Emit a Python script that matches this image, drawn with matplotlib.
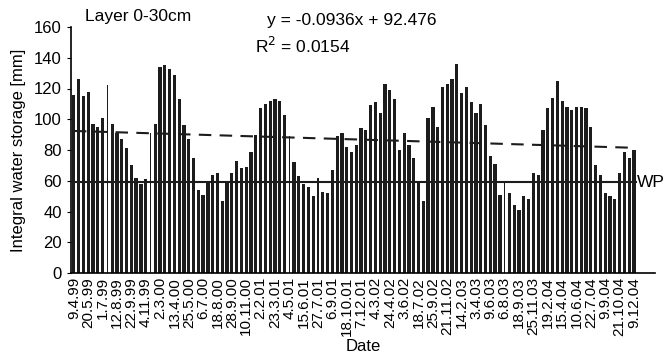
import matplotlib
matplotlib.use("Agg")
import matplotlib.pyplot as plt
import numpy as np

plt.rcParams['font.family'] = ['Liberation Sans', 'DejaVu Sans']

# integral water storage per measuring date [mm]
storage = [116, 126, 115, 118, 97, 95, 101, 122, 97, 91,
           87, 81, 70, 62, 58, 61, 91, 97, 134, 135,
           133, 129, 113, 96, 87, 75, 54, 51, 59, 64,
           65, 47, 60, 65, 73, 68, 69, 79, 90, 107,
           110, 112, 113, 112, 103, 89, 72, 63, 58, 56,
           50, 62, 53, 52, 67, 89, 91, 82, 79, 83,
           94, 93, 109, 111, 104, 123, 119, 113, 80, 91,
           83, 75, 59, 47, 101, 108, 95, 121, 123, 126,
           136, 117, 121, 111, 104, 110, 96, 76, 71, 51,
           59, 52, 44, 41, 50, 48, 65, 64, 93, 107,
           114, 125, 112, 108, 106, 108, 108, 107, 95, 70,
           64, 52, 50, 48, 65, 79, 75, 80]

# every third date is labelled
date_labels = ['9.4.99', '20.5.99', '1.7.99', '12.8.99', '22.9.99', '4.11.99',
               '2.3.00', '13.4.00', '25.5.00', '6.7.00', '18.8.00', '28.9.00',
               '10.11.00', '2.2.01', '23.3.01', '4.5.01', '15.6.01', '27.7.01',
               '6.9.01', '18.10.01', '7.12.01', '4.3.02', '24.4.02', '3.6.02',
               '18.7.02', '25.9.02', '21.11.02', '14.2.03', '3.4.03', '9.6.03',
               '6.8.03', '18.9.03', '25.11.03', '19.2.04', '15.4.04', '10.6.04',
               '22.7.04', '9.9.04', '21.10.04', '9.12.04']

wilting_point = 59
slope = -0.0936
intercept = 92.476
r2 = 0.0154

# bars that show up only as thin lines in the original
thin = [7, 16, 45, 51, 90]

n = len(storage)
x = np.arange(n)
widths = np.where(np.isin(x, thin), 0.25, 0.68)

fig = plt.figure(figsize=(6.66, 3.58), dpi=100)
ax = fig.add_axes([71 / 666, 85 / 358, 584 / 666, 246 / 358])

ax.bar(x, storage, width=widths, color='#1c1c1c', zorder=2)

# trend line and wilting point
trend = slope * (x + 1) + intercept
ax.plot(x, trend, color='#1c1c1c', lw=1.5, ls=(0, (6, 4)), zorder=3)
ax.plot([-0.6, n - 0.5], [wilting_point, wilting_point], color='#1c1c1c',
        lw=1.5, zorder=3)

ax.set_xlim(-0.6, 121.4)
ax.set_ylim(0, 160)
ax.set_yticks(np.arange(0, 161, 20))
ax.set_xticks(np.arange(0, n, 3))
ax.set_xticklabels(date_labels, rotation=90, fontsize=11)
ax.tick_params(axis='y', labelsize=12, length=3, direction='out')
ax.tick_params(axis='x', length=0, pad=3)

for s in ['top', 'right']:
    ax.spines[s].set_visible(False)
for s in ['left', 'bottom']:
    ax.spines[s].set_linewidth(1.2)

ax.set_ylabel('Integral water storage [mm]', fontsize=12, labelpad=6)
ax.set_xlabel('Date', fontsize=12, labelpad=2)

fig.text(85 / 666, 1 - 17 / 358, 'Layer 0-30cm', fontsize=12.5, va='center')
fig.text(267 / 666, 1 - 21 / 358, f'y = {slope}x + {intercept}',
         fontsize=12.5, va='center')
fig.text(255 / 666, 1 - 46 / 358, f'R$^2$ = {r2}', fontsize=12.5, va='center')
ax.text(n - 0.3, wilting_point, 'WP', fontsize=12.5, va='center', ha='left')

fig.savefig('out.png', dpi=100)
